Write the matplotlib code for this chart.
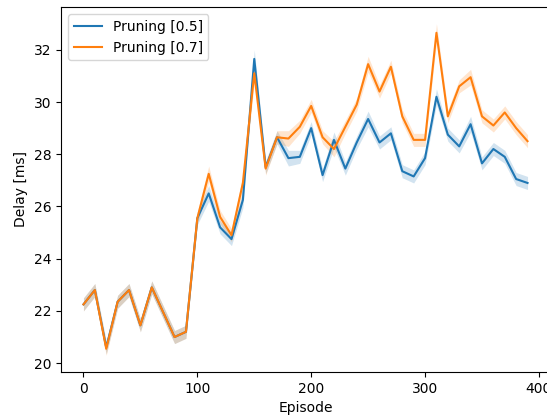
import matplotlib
matplotlib.use("Agg")
import matplotlib.pyplot as plt
import numpy as np

episodes = list(range(0, 400, 10))

delay_05 = [22.25, 22.8, 20.6, 22.35, 22.8, 21.45, 22.9, 21.95, 21.0, 21.2,
            25.55, 26.5, 25.2, 24.75, 26.25, 31.65, 27.5, 28.65, 27.85, 27.9,
            29.0, 27.2, 28.55, 27.45, 28.45, 29.35, 28.45, 28.8, 27.35, 27.15,
            27.85, 30.2, 28.75, 28.3, 29.15, 27.65, 28.2, 27.9, 27.05, 26.9]
delay_07 = [22.25, 22.8, 20.55, 22.35, 22.8, 21.45, 22.9, 21.95, 21.0, 21.2,
            25.55, 27.25, 25.6, 24.9, 26.9, 31.1, 27.45, 28.65, 28.6, 29.05,
            29.85, 28.65, 28.2, 29.05, 29.9, 31.45, 30.4, 31.35, 29.45, 28.55,
            28.55, 32.65, 29.45, 30.6, 30.95, 29.45, 29.1, 29.6, 29.0, 28.5]

# half-width of the confidence band
ci_05 = [0.25, 0.25, 0.25, 0.25, 0.25, 0.25, 0.25, 0.25, 0.25, 0.25,
         0.25, 0.3, 0.25, 0.25, 0.3, 0.35, 0.25, 0.25, 0.3, 0.25,
         0.25, 0.25, 0.3, 0.25, 0.25, 0.3, 0.25, 0.25, 0.25, 0.25,
         0.25, 0.3, 0.25, 0.25, 0.3, 0.25, 0.25, 0.25, 0.25, 0.25]
ci_07 = [0.25, 0.25, 0.25, 0.25, 0.25, 0.25, 0.25, 0.25, 0.25, 0.25,
         0.25, 0.3, 0.25, 0.25, 0.3, 0.35, 0.25, 0.25, 0.3, 0.25,
         0.25, 0.25, 0.3, 0.25, 0.25, 0.3, 0.25, 0.25, 0.25, 0.25,
         0.25, 0.35, 0.25, 0.25, 0.3, 0.25, 0.25, 0.25, 0.25, 0.25]

xticks = [0, 100, 200, 300, 400]

series = [("Pruning [0.5]", delay_05, ci_05, "#1f77b4"),
          ("Pruning [0.7]", delay_07, ci_07, "#ff7f0e")]

fig = plt.figure(figsize=(5.47, 4.16), dpi=100)
ax = fig.add_axes([0.112, 0.106, 0.893, 0.877])

x = np.array(episodes)
for label, vals, ci, color in series:
    vals = np.array(vals)
    ci = np.array(ci)
    ax.plot(x, vals, color=color, lw=1.5, label=label)
    ax.fill_between(x, vals - ci, vals + ci, color=color, alpha=0.2, lw=0)

ax.set_xticks(xticks)
ax.set_xlabel("Episode")
ax.set_ylabel("Delay [ms]")
ax.legend(loc="upper left")
fig.savefig("out.png", dpi=100)
